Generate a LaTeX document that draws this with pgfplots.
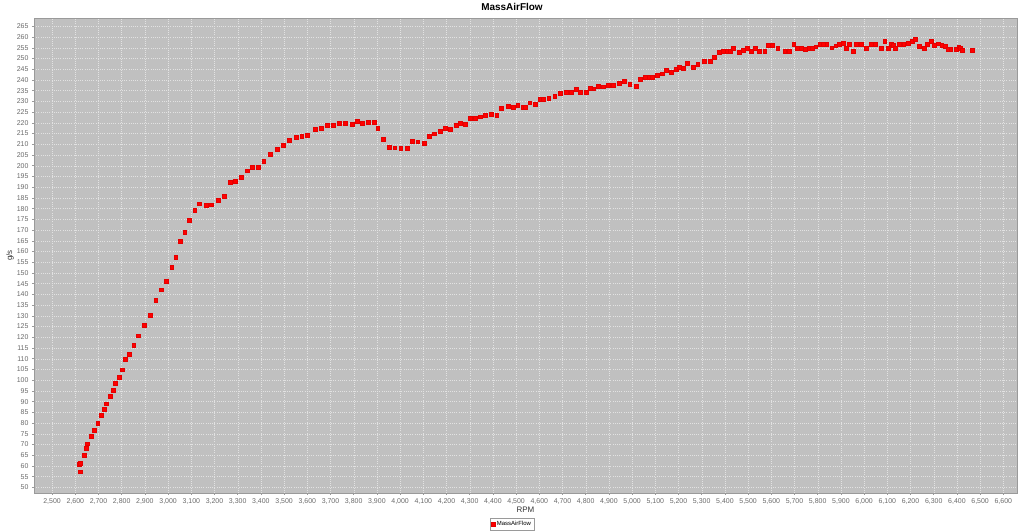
\documentclass[border=0pt]{standalone}
\usepackage{fontspec}
\setmainfont{Liberation Sans}
\usepackage{pgfplots}
\usepackage{pgfplotstable}
\pgfplotsset{compat=1.18}

\definecolor{plotbg}{HTML}{C0C0C0}
\definecolor{gridcol}{HTML}{E2E2E2}
\definecolor{axisgray}{HTML}{9A9A9A}
\definecolor{ticktext}{HTML}{6A6A6A}

% RPM vs mass air flow (g/s)
\pgfplotstableread{
rpm gs
2615 60.7
2619 61.2
2622 57.4
2637 64.9
2645 68.2
2651 70.4
2667 74.1
2681 76.9
2696 79.9
2710 83.6
2723 86.4
2734 89.1
2750 92.4
2762 95.5
2773 98.8
2788 101.4
2802 104.9
2815 109.9
2831 112.2
2851 116.3
2869 120.8
2897 125.6
2922 130.2
2946 137.4
2970 142.2
2991 146.2
3015 152.9
3032 157.3
3052 165.0
3071 169.2
3091 174.5
3114 179.3
3134 182.3
3163 181.5
3187 181.9
3217 184.0
3240 186.0
3266 192.3
3290 192.7
3313 194.8
3339 197.7
3362 199.5
3387 199.5
3412 202.3
3440 205.5
3470 207.6
3494 209.8
3523 211.8
3550 213.5
3575 214.0
3599 214.4
3634 217.2
3658 217.4
3685 218.8
3712 218.9
3737 219.9
3763 219.9
3793 219.4
3815 220.8
3835 219.9
3861 220.2
3888 220.3
3903 217.4
3928 212.4
3951 208.6
3976 208.5
4002 208.2
4029 208.2
4052 211.4
4075 211.3
4102 210.7
4124 213.8
4148 215.0
4171 216.0
4193 217.4
4217 217.1
4240 218.9
4259 219.7
4279 219.4
4303 222.1
4323 222.1
4344 222.9
4368 223.5
4392 223.9
4416 223.5
4437 226.8
4465 227.7
4486 227.2
4506 228.3
4528 227.5
4540 227.5
4558 229.4
4581 228.9
4602 231.0
4616 231.0
4640 231.6
4666 232.5
4691 233.9
4714 234.4
4737 234.2
4757 235.6
4776 234.4
4800 234.4
4819 236.3
4834 236.0
4853 237.2
4874 236.9
4895 237.7
4918 237.7
4943 238.6
4966 239.5
4989 238.0
5016 237.1
5034 240.3
5055 241.4
5072 241.3
5086 241.4
5109 242.1
5129 243.0
5148 244.5
5168 243.6
5188 245.2
5204 246.1
5220 245.5
5237 248.0
5262 246.1
5282 247.5
5309 248.9
5335 248.9
5355 250.5
5374 253.0
5393 253.6
5410 253.6
5423 253.6
5435 255.0
5460 253.1
5477 254.0
5497 255.0
5513 253.4
5529 255.0
5546 253.4
5571 253.4
5586 256.4
5605 256.4
5627 255.0
5657 253.4
5676 253.4
5696 256.6
5711 255.0
5727 255.0
5744 254.5
5763 255.0
5775 255.0
5791 255.6
5809 256.6
5823 256.6
5838 256.6
5860 255.1
5877 256.0
5893 256.7
5910 257.2
5921 255.0
5935 256.7
5951 253.4
5966 256.7
5987 256.6
6010 255.0
6029 256.6
6049 256.6
6073 255.0
6088 258.0
6102 255.0
6115 257.0
6125 256.2
6135 255.0
6152 256.6
6170 256.6
6190 257.2
6206 258.1
6219 259.1
6236 255.8
6258 255.0
6270 256.7
6287 258.0
6301 256.1
6319 257.0
6334 256.4
6350 255.8
6363 254.5
6373 254.5
6395 254.5
6407 255.6
6414 254.8
6424 253.9
6467 253.9
}\mafdata

\begin{document}
\begin{tikzpicture}[x=1bp,y=1bp]
\useasboundingbox (0,0) rectangle (1024,532);
\node[font=\fontsize{10}{12}\selectfont\bfseries] at (512,525) {MassAirFlow};
\begin{axis}[
    at={(34bp,39bp)}, anchor=south west,
    scale only axis,
    width=983bp, height=475bp,
    xmin=2422, xmax=6659,
    ymin=47.4, ymax=268.9,
    xtick={2500,2600,...,6600},
    ytick={50,55,...,265},
    /pgf/number format/assume math mode=true,
    /pgf/number format/1000 sep={,},
    scaled x ticks=false,
    tick label style={font=\fontsize{7}{8}\selectfont, text=ticktext},
    xtick pos=bottom, ytick pos=left,
    tick align=outside,
    major tick length=2bp,
    tick style={axisgray, line width=0.5bp},
    axis line style={axisgray, line width=0.8bp},
    axis background/.style={fill=plotbg},
    grid=major,
    major grid style={gridcol, line width=0.4bp, dash pattern=on 1bp off 1.2bp},
    xlabel={RPM},
    ylabel={g/s},
    label style={font=\fontsize{8}{9}\selectfont, text=black!80},
    xlabel style={at={(axis description cs:0.5,-0.036)}, anchor=center},
    ylabel style={at={(axis description cs:-0.0244,0.5)}, anchor=center},
    legend style={at={(axis description cs:0.4863,-0.0653)}, anchor=center,
        font=\fontsize{6}{7}\selectfont, draw=axisgray, line width=0.4bp,
        inner sep=1bp, row sep=0pt},
    legend cell align=left,
]
\addplot[only marks, mark=square*, mark size=1.9bp,
    mark options={fill=red, draw=red!90!black, line width=0.2bp}]
    table[x=rpm, y=gs] {\mafdata};
\addlegendentry{MassAirFlow}
\end{axis}
\end{tikzpicture}
\end{document}
